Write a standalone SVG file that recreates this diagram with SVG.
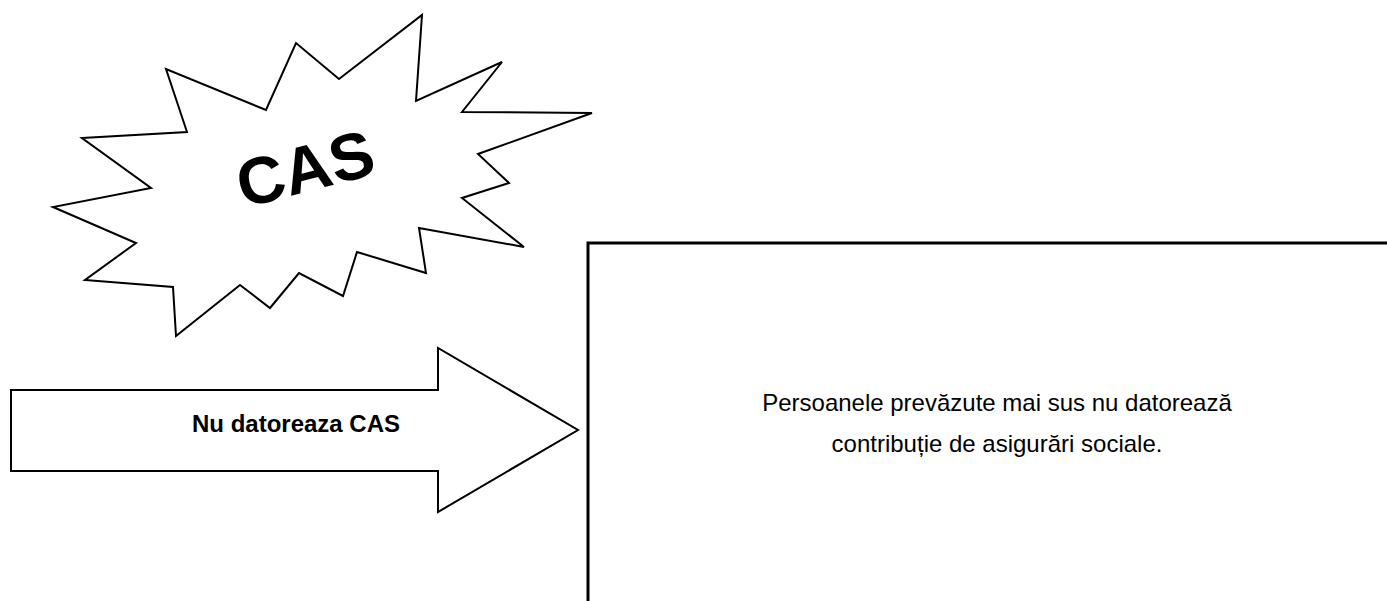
<svg xmlns="http://www.w3.org/2000/svg" width="1387" height="601" viewBox="0 0 1387 601">
  <style>
    .shape { fill: #ffffff; stroke: #000000; stroke-width: 2; stroke-linejoin: miter; }
    .box { fill: #ffffff; stroke: #000000; stroke-width: 3; }
    .label { font-family: "Liberation Sans", Arial, sans-serif; fill: #000000; }
  </style>
  <rect x="0" y="0" width="1387" height="601" fill="#ffffff"/>
  <g id="burst">
    <polygon class="shape" points="82,138 187,132 166,69 266,110 296,43 339,79 422,15 416,101 502,62 462,112 592,113 478,154 509,183 462,198 524,247 419,228 426,273 357,252 343,296 299,273 270,308 240,285 176,336 173,287 85,280 136,243 53,207 151,188"/>
    <text class="label" x="305" y="191.5" font-size="66" font-weight="bold" text-anchor="middle" transform="rotate(-14.5 305 168)">CAS</text>
  </g>
  <g id="arrow">
    <polygon class="shape" points="11,390 438,390 438,348 578,430 438,512 438,471 11,471"/>
    <text class="label" x="296" y="432" font-size="24" font-weight="bold" text-anchor="middle">Nu datoreaza CAS</text>
  </g>
  <g id="info-box">
    <rect class="box" x="588" y="243" width="900" height="500"/>
    <text class="label" x="997" y="411" font-size="24" text-anchor="middle">Persoanele prevăzute mai sus nu datorează</text>
    <text class="label" x="997" y="452" font-size="24" text-anchor="middle">contribuție de asigurări sociale.</text>
  </g>
  <g id="connectors"></g>
</svg>
